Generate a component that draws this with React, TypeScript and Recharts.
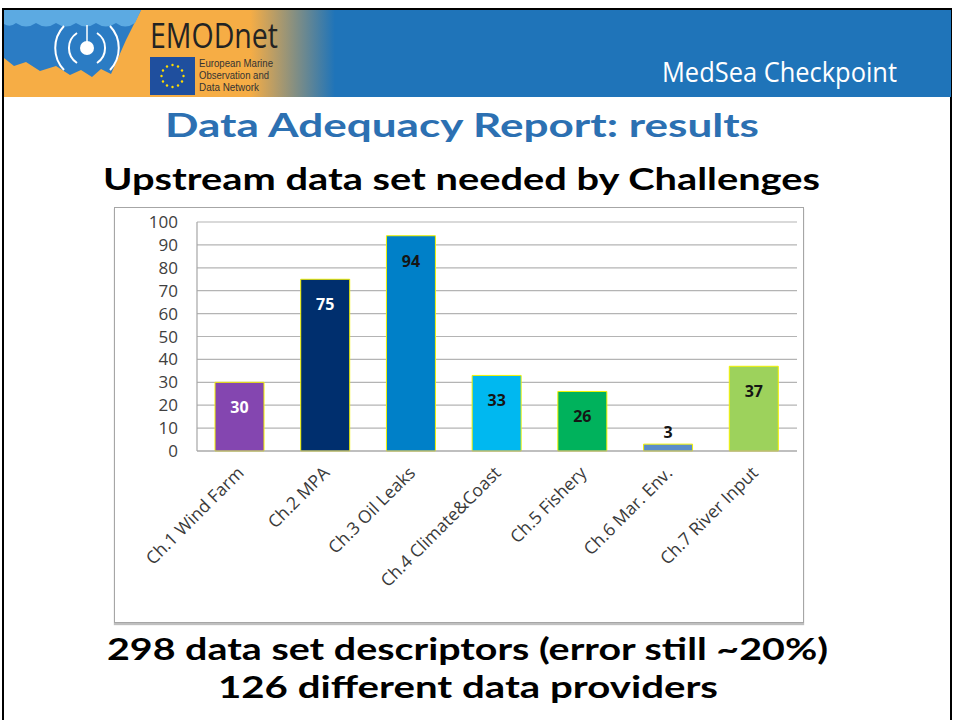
import React from 'react';
import { BarChart, Bar, XAxis, YAxis, CartesianGrid, Cell, LabelList } from 'recharts';

const challenges = [
  'Ch.1 Wind Farm',
  'Ch.2 MPA',
  'Ch.3 Oil Leaks',
  'Ch.4 Climate&Coast',
  'Ch.5 Fishery',
  'Ch.6 Mar. Env.',
  'Ch.7 River Input',
];
const datasetsNeeded = [30, 75, 94, 33, 26, 3, 37];
const barColors = ['#8446b0', '#002f6e', '#0080c8', '#00b8f0', '#00b25c', '#5b8dc8', '#9dd25c'];
const labelColors = ['#ffffff', '#ffffff', '#151515', '#151515', '#151515', '#151515', '#151515'];
const yTicks = [0, 10, 20, 30, 40, 50, 60, 70, 80, 90, 100];

const data = challenges.map((name, i) => ({ name, value: datasetsNeeded[i] }));

const FONT = '"Open Sans", "DejaVu Sans", sans-serif';
const TITLE = 'Lato, "Open Sans", sans-serif';
const SMALL = '"Liberation Sans", Arial, sans-serif';

// x labels: rotated 45deg, text end sits just right of the category centre
const AngledTick = (props: any) => {
  const { x, y, payload } = props;
  const tx = x + 5;
  const ty = y + 15;
  return (
    <text
      x={tx}
      y={ty}
      transform={`rotate(-45 ${tx} ${ty})`}
      textAnchor="end"
      fill="#3a3a3a"
      fontSize={17.5}
      fontFamily={FONT}
    >
      {payload.value}
    </text>
  );
};

// Excel style "inside end" labels, the tiny bar gets its label on top
const ValueLabel = (props: any) => {
  const { x, y, width, height, value, index } = props;
  const inside = height > 22;
  return (
    <text
      x={x + width / 2}
      y={inside ? y + 25 : y - 12}
      textAnchor="middle"
      dominantBaseline="central"
      fill={inside ? labelColors[index] : '#151515'}
      fontSize={16}
      fontWeight={700}
      fontFamily={FONT}
    >
      {value}
    </text>
  );
};

const Header = () => (
  <g>
    <defs>
      <linearGradient id="hdrGrad" x1="0" x2="954" y1="0" y2="0" gradientUnits="userSpaceOnUse">
        <stop offset={250 / 954} stopColor="#f6ad45" />
        <stop offset={335 / 954} stopColor="#1f74b9" />
      </linearGradient>
    </defs>
    <rect x={4} y={10} width={947} height={87} fill="url(#hdrGrad)" />
    {/* wave logo */}
    <path
      d="M4 10 L141 10 L126 40 L111 74 L101 69 L92 77 L81 70 L70 75 L56 66 L40 71 L26 62 L14 66 L4 58 Z"
      fill="#2b7cc4"
    />
    <path
      d="M4 10 L141 10 L135 23 Q125 30 116 23 Q106 30 96 23 Q86 30 76 23 Q66 30 56 23 Q46 30 36 23 Q26 30 16 23 Q10 28 4 24 Z"
      fill="#5caae2"
    />
    <path d="M77 33 A18 18 0 0 0 77 63" stroke="#fff" strokeWidth={2} fill="none" />
    <path d="M97 33 A18 18 0 0 1 97 63" stroke="#fff" strokeWidth={2} fill="none" />
    <path d="M64 26 A32 32 0 0 0 64 70" stroke="#fff" strokeWidth={2} fill="none" />
    <path d="M110 26 A32 32 0 0 1 110 70" stroke="#fff" strokeWidth={2} fill="none" />
    <line x1={87} y1={25} x2={87} y2={42} stroke="#fff" strokeWidth={1.5} />
    <circle cx={87} cy={48} r={7} fill="#fff" />
    {/* EMODnet */}
    <text x={150} y={48} fontSize={34} fill="#232323" fontFamily={FONT} textLength={128} lengthAdjust="spacingAndGlyphs">
      EMODnet
    </text>
    <rect x={150} y={57} width={45} height={38} fill="#1f4f9e" />
    {Array.from({ length: 12 }).map((_, i) => (
      <circle
        key={i}
        cx={172.5 + 11 * Math.cos((i * Math.PI) / 6)}
        cy={76 + 11 * Math.sin((i * Math.PI) / 6)}
        r={1.2}
        fill="#ffdd00"
      />
    ))}
    <text x={199} y={67} fontSize={10.4} fill="#333" fontFamily={SMALL} textLength={74} lengthAdjust="spacingAndGlyphs">
      European Marine
    </text>
    <text x={199} y={79} fontSize={10.4} fill="#333" fontFamily={SMALL} textLength={70} lengthAdjust="spacingAndGlyphs">
      Observation and
    </text>
    <text x={199} y={91} fontSize={10.4} fill="#333" fontFamily={SMALL} textLength={60} lengthAdjust="spacingAndGlyphs">
      Data Network
    </text>
    <text x={662} y={82} fontSize={28} fill="#ffffff" fontFamily={FONT} textLength={235} lengthAdjust="spacingAndGlyphs">
      MedSea Checkpoint
    </text>
  </g>
);

export default function App() {
  return (
    <div
      style={{
        position: 'absolute',
        left: 0,
        top: 0,
        width: 954,
        height: 720,
        overflow: 'hidden',
        background: '#ffffff',
        fontFamily: FONT,
      }}
    >
      <svg width={954} height={720} style={{ position: 'absolute', left: 0, top: 0 }}>
        <rect x={3} y={9} width={948} height={730} fill="none" stroke="#000" strokeWidth={2} />
        <Header />
        <text x={165} y={137} fontSize={33} fontWeight={700} fill="#2c70b2" fontFamily={TITLE} textLength={594} lengthAdjust="spacingAndGlyphs">
          Data Adequacy Report: results
        </text>
        <text x={103} y={190} fontSize={30} fontWeight={700} fill="#000" fontFamily={TITLE} textLength={717} lengthAdjust="spacingAndGlyphs">
          Upstream data set needed by Challenges
        </text>
        <text x={107} y={660} fontSize={31} fontWeight={700} fill="#000" fontFamily={TITLE} textLength={721} lengthAdjust="spacingAndGlyphs">
          298 data set descriptors (error still ~20%)
        </text>
        <text x={218} y={698} fontSize={31} fontWeight={700} fill="#000" fontFamily={TITLE} textLength={500} lengthAdjust="spacingAndGlyphs">
          126 different data providers
        </text>
      </svg>
      <div
        style={{
          position: 'absolute',
          left: 114,
          top: 207,
          width: 690,
          height: 416,
          boxSizing: 'border-box',
          border: '1px solid #a6a6a6',
          boxShadow: '0 2px 1px rgba(0,0,0,0.25)',
          background: '#ffffff',
        }}
      >
        <BarChart
          width={688}
          height={414}
          data={data}
          margin={{ top: 14, right: 6, left: 22, bottom: 131 }}
        >
          <CartesianGrid vertical={false} stroke="#b4b4b4" strokeWidth={1.2} />
          <XAxis
            dataKey="name"
            interval={0}
            height={40}
            tickLine={false}
            axisLine={{ stroke: '#a6a6a6', strokeWidth: 1.2 }}
            tick={<AngledTick />}
          />
          <YAxis
            domain={[0, 100]}
            ticks={yTicks}
            interval={0}
            width={60}
            tickLine={false}
            tickSize={6}
            tickMargin={13}
            axisLine={{ stroke: '#a6a6a6', strokeWidth: 1.2 }}
            tick={{ fill: '#404040', fontSize: 17, fontFamily: FONT }}
          />
          <Bar dataKey="value" barSize={49} stroke="#f2f200" strokeWidth={1} isAnimationActive={false}>
            {data.map((d, i) => (
              <Cell key={d.name} fill={barColors[i]} />
            ))}
            <LabelList dataKey="value" content={<ValueLabel />} />
          </Bar>
        </BarChart>
      </div>
    </div>
  );
}
